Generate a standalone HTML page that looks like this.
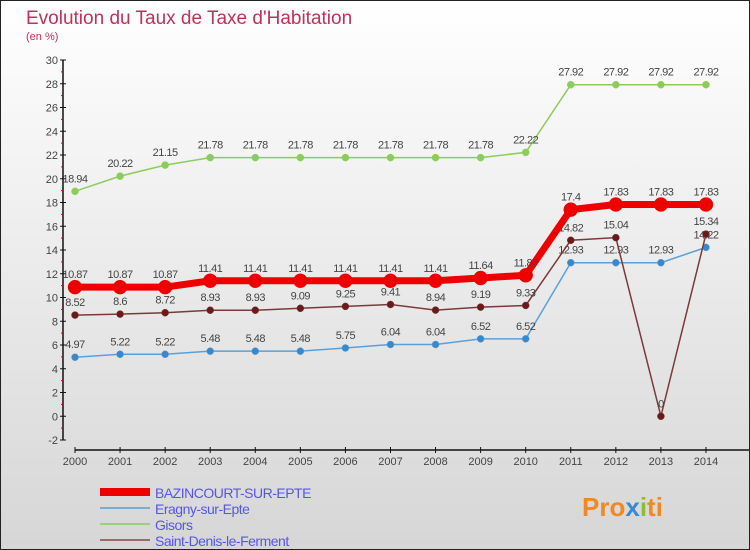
<!DOCTYPE html>
<html><head><meta charset="utf-8"><style>
body{margin:0}
#c{width:750px;height:550px;position:relative;box-sizing:border-box;border:1px solid #222;background:linear-gradient(#ffffff,#d6d6d6);font-family:"Liberation Sans",sans-serif;overflow:hidden}
</style></head><body>
<div id="c">
<svg id="s" width="750" height="550" style="position:absolute;left:-1px;top:-1px">
<text x="26" y="24" font-size="19" fill="#c0305a">Evolution du Taux de Taxe d'Habitation</text>
<text x="26" y="40" font-size="11" fill="#c0305a">(en %)</text>
<g id="axes"></g><g id="series"></g><g id="legend"></g>
<text x="582" y="516" font-size="26" font-weight="bold" fill="#f08a20">Pro<tspan fill="#3a8ad0">x</tspan><tspan fill="#8ac030">i</tspan>ti</text>
</svg>
</div>
<script>
const years=[2000,2001,2002,2003,2004,2005,2006,2007,2008,2009,2010,2011,2012,2013,2014];
const yTicks=[-2,0,2,4,6,8,10,12,14,16,18,20,22,24,26,28,30];
const baz=[10.87,10.87,10.87,11.41,11.41,11.41,11.41,11.41,11.41,11.64,11.87,17.4,17.83,17.83,17.83];
const era=[4.97,5.22,5.22,5.48,5.48,5.48,5.75,6.04,6.04,6.52,6.52,12.93,12.93,12.93,14.22];
const gis=[18.94,20.22,21.15,21.78,21.78,21.78,21.78,21.78,21.78,21.78,22.22,27.92,27.92,27.92,27.92];
const sdf=[8.52,8.6,8.72,8.93,8.93,9.09,9.25,9.41,8.94,9.19,9.33,14.82,15.04,0,15.34];
const names=["BAZINCOURT-SUR-EPTE","Eragny-sur-Epte","Gisors","Saint-Denis-le-Ferment"];
const NS="http://www.w3.org/2000/svg";
const X=i=>75+i*45.07, Y=v=>416.25-v*11.875;
function mk(p,t,a){const e=document.createElementNS(NS,t);for(const k in a)e.setAttribute(k,a[k]);p.appendChild(e);return e;}
const ax=document.getElementById('axes');
let l=mk(ax,'line',{x1:63,y1:Y(30),x2:63,y2:Y(-2),stroke:'#111','stroke-width':1.5});

l=mk(ax,'line',{x1:75,y1:450,x2:750,y2:450,stroke:'#111','stroke-width':1.5});

yTicks.forEach(v=>{mk(ax,'line',{x1:60,y1:Y(v),x2:66,y2:Y(v),stroke:'#111'});
 mk(ax,'line',{x1:61,y1:Y(v+1),x2:64,y2:Y(v+1),stroke:'#e00'}).style.display=v<30?'':'none';
 const t=mk(ax,'text',{x:58,y:Y(v)+4,'font-size':11,fill:'#444','text-anchor':'end'});t.textContent=v;
 });
years.forEach((y,i)=>{mk(ax,'line',{x1:X(i),y1:447,x2:X(i),y2:453,stroke:'#111'});
 const t=mk(ax,'text',{x:X(i),y:465,'font-size':11,fill:'#444','text-anchor':'middle'});t.textContent=y;
 });
const sg=document.getElementById('series');
function ser(d,col,w,r,fill,name){
 const g=mk(sg,'g',{});
 mk(g,'polyline',{points:d.map((v,i)=>X(i)+','+Y(v)).join(' '),fill:'none',stroke:col,'stroke-width':w});
 d.forEach((v,i)=>{const c=mk(g,'circle',{cx:X(i),cy:Y(v),r:r,fill:fill,stroke:col,'stroke-width':0.5});
  
  const t=mk(g,'text',{x:X(i),y:Y(v)-9,'font-size':11,fill:'#444','text-anchor':'middle','letter-spacing':'-0.5'});t.textContent=v;
  });
}
ser(gis,'#8ccd5a',1.5,3.5,'#8ccd5a','series-gisors');
ser(era,'#5aa0d8',1.5,3.5,'#3a88c8','series-eragny');
ser(sdf,'#7a3a3a',1.5,3.5,'#6a1a1a','series-saint-denis');
ser(baz,'#ee0000',7,7,'#ee0000','series-bazincourt');
const lg=document.getElementById('legend');
const lc=['#ee0000','#7aaed0','#9ad07a','#9a6a6a'],lw=[8,2,2,2];
names.forEach((n,i)=>{const y=492+i*16;
 const g=mk(lg,'g',{});
 mk(g,'line',{x1:100,y1:y,x2:150,y2:y,stroke:lc[i],'stroke-width':lw[i]});
 const t=mk(g,'text',{x:155,y:y+6,'font-size':14,fill:'#5555ee','letter-spacing':'-0.5'});t.textContent=n;});
</script>
</body></html>
